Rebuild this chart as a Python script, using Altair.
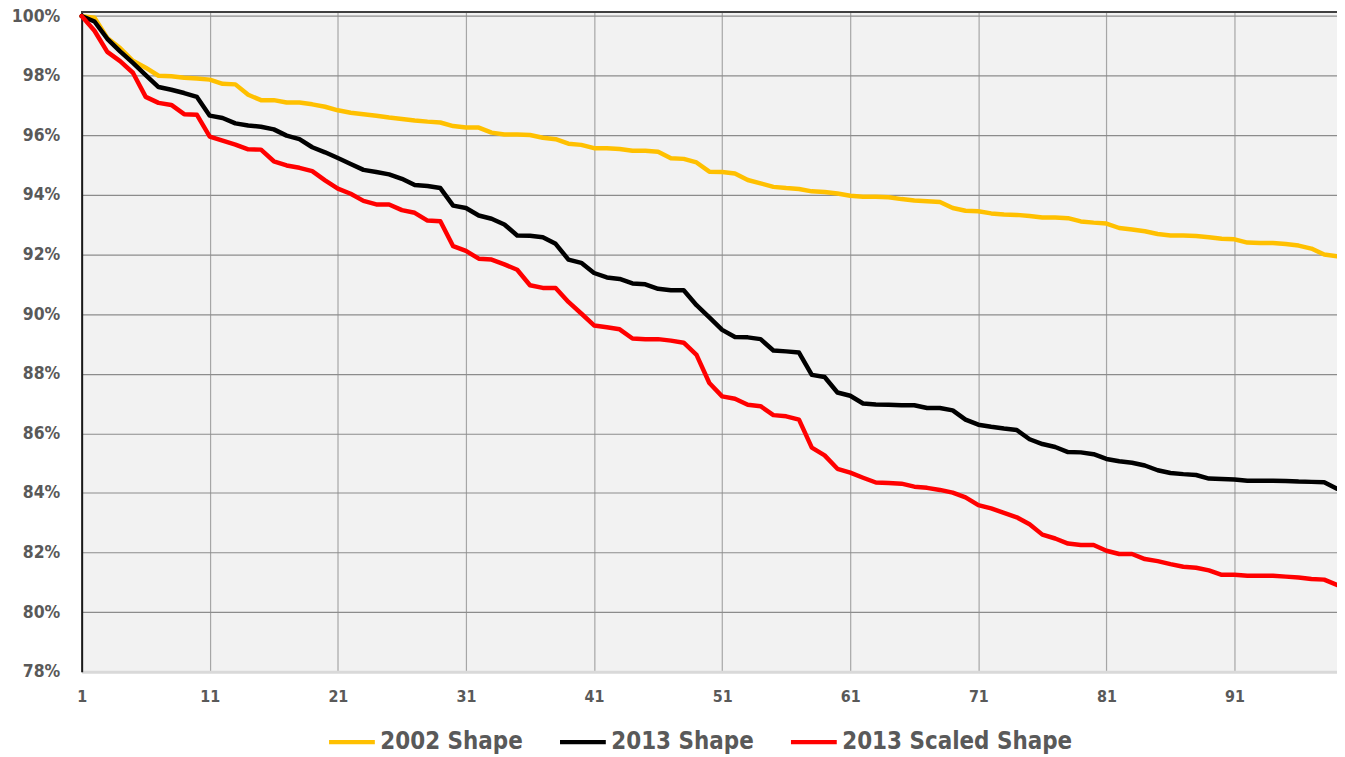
import altair as alt
import pandas as pd

series_names = ["2002 Shape", "2013 Shape", "2013 Scaled Shape"]
series_colors = ["#FFC000", "#000000", "#FF0000"]

x_values = list(range(1, 100))

shape_2002 = [
    100.0, 99.95, 99.27, 98.93, 98.50, 98.27, 98.00, 97.98, 97.93, 97.91,
    97.87, 97.73, 97.71, 97.36, 97.18, 97.18, 97.10, 97.10, 97.04, 96.96,
    96.84, 96.76, 96.71, 96.66, 96.60, 96.55, 96.50, 96.46, 96.43, 96.31,
    96.26, 96.26, 96.09, 96.03, 96.03, 96.01, 95.92, 95.87, 95.72, 95.68,
    95.57, 95.57, 95.54, 95.48, 95.48, 95.45, 95.23, 95.21, 95.09, 94.78,
    94.77, 94.72, 94.50, 94.39, 94.27, 94.23, 94.20, 94.12, 94.10, 94.05,
    93.97, 93.94, 93.94, 93.92, 93.86, 93.81, 93.79, 93.76, 93.56, 93.47,
    93.45, 93.38, 93.34, 93.33, 93.29, 93.24, 93.24, 93.22, 93.11, 93.07,
    93.04, 92.89, 92.84, 92.78, 92.69, 92.64, 92.64, 92.62, 92.58, 92.53,
    92.51, 92.40, 92.39, 92.39, 92.35, 92.30, 92.20, 92.00, 91.94,
]

shape_2013 = [
    100.0, 99.82, 99.24, 98.82, 98.43, 98.02, 97.62, 97.53, 97.42, 97.29,
    96.66, 96.58, 96.40, 96.33, 96.29, 96.20, 95.99, 95.87, 95.60, 95.43,
    95.24, 95.04, 94.84, 94.77, 94.69, 94.54, 94.33, 94.30, 94.23, 93.64,
    93.56, 93.31, 93.20, 93.01, 92.64, 92.63, 92.58, 92.36, 91.83, 91.72,
    91.38, 91.23, 91.18, 91.03, 91.00, 90.85, 90.80, 90.80, 90.30, 89.89,
    89.47, 89.23, 89.22, 89.16, 88.78, 88.75, 88.71, 87.96, 87.89, 87.37,
    87.26, 87.00, 86.97, 86.96, 86.94, 86.94, 86.85, 86.85, 86.77, 86.46,
    86.29, 86.22, 86.16, 86.11, 85.80, 85.64, 85.54, 85.37, 85.36, 85.30,
    85.14, 85.06, 85.01, 84.92, 84.76, 84.67, 84.63, 84.60, 84.48, 84.47,
    84.45, 84.41, 84.41, 84.41, 84.40, 84.38, 84.37, 84.36, 84.14,
]

shape_2013_scaled = [
    100.0, 99.51, 98.80, 98.49, 98.10, 97.29, 97.09, 97.02, 96.71, 96.69,
    95.96, 95.82, 95.69, 95.53, 95.52, 95.13, 94.99, 94.91, 94.80, 94.49,
    94.21, 94.04, 93.80, 93.68, 93.68, 93.49, 93.40, 93.14, 93.12, 92.28,
    92.12, 91.86, 91.83, 91.67, 91.49, 90.97, 90.88, 90.88, 90.41, 90.02,
    89.62, 89.56, 89.49, 89.18, 89.16, 89.16, 89.11, 89.04, 88.63, 87.69,
    87.24, 87.16, 86.96, 86.91, 86.61, 86.57, 86.46, 85.52, 85.26, 84.81,
    84.68, 84.51, 84.35, 84.33, 84.31, 84.21, 84.17, 84.10, 84.01, 83.85,
    83.59, 83.48, 83.33, 83.18, 82.95, 82.60, 82.47, 82.30, 82.25, 82.25,
    82.06, 81.95, 81.95, 81.78, 81.71, 81.61, 81.52, 81.49, 81.40, 81.25,
    81.25, 81.22, 81.22, 81.22, 81.19, 81.16, 81.11, 81.09, 80.91,
]

x_ticks = [1, 11, 21, 31, 41, 51, 61, 71, 81, 91]
y_ticks = [78, 80, 82, 84, 86, 88, 90, 92, 94, 96, 98, 100]

rows = []
for name, vals in zip(series_names, [shape_2002, shape_2013, shape_2013_scaled]):
    for xv, yv in zip(x_values, vals):
        rows.append({"x": xv, "value": yv, "series": name})
df = pd.DataFrame(rows)

FONT = "Liberation Sans Narrow, DejaVu Sans Condensed, sans-serif"
LABEL_COLOR = "#595959"

lines = alt.Chart(df).mark_line(strokeWidth=4.5, strokeJoin="round", strokeCap="round").encode(
    x=alt.X("x:Q",
            scale=alt.Scale(domain=[1, 99], nice=False, zero=False),
            axis=alt.Axis(values=x_ticks, title=None, grid=True, gridColor="#a6a6a6",
                          gridWidth=1.2, domainColor="#d9d9d9", domainWidth=3,
                          ticks=False, labelFont=FONT, labelFontSize=16,
                          labelFontWeight="bold", labelColor=LABEL_COLOR,
                          labelPadding=17, labelFlush=False)),
    y=alt.Y("value:Q",
            scale=alt.Scale(domain=[78, 100.15], nice=False, zero=False),
            axis=alt.Axis(values=y_ticks, title=None, grid=True, gridColor="#8c8c8c",
                          gridWidth=1.2, domainColor="#1a1a1a", domainWidth=2,
                          ticks=False, labelFont=FONT, labelFontSize=17.5,
                          labelFontWeight="bold", labelColor=LABEL_COLOR,
                          labelPadding=22, labelExpr="datum.value + '%'")),
    color=alt.Color("series:N",
                    scale=alt.Scale(domain=series_names, range=series_colors),
                    sort=series_names,
                    legend=alt.Legend(title=None, orient="none", direction="horizontal",
                                      legendX=246, legendY=708,
                                      symbolType="stroke", symbolSize=2116,
                                      symbolStrokeWidth=4.5, labelFont=FONT,
                                      labelFontSize=24, labelFontWeight="bold",
                                      labelColor=LABEL_COLOR, columnPadding=27,
                                      labelOffset=3, labelLimit=400)),
    order=alt.Order("x:Q"),
)

top_border = alt.Chart(df).mark_rule(color="#404040", strokeWidth=1.5).encode(
    x=alt.value(0), x2=alt.value(1261), y=alt.value(0)
)

chart = alt.layer(lines, top_border).properties(
    width=1261, height=663,
    padding={"left": 74, "top": 2, "right": 0, "bottom": 83},
    autosize=alt.AutoSizeParams(type="none"),
    background="white",
).configure_view(fill="#f2f2f2", stroke=None)

chart.save("out.html", embed_options={"renderer": "svg", "actions": False})
